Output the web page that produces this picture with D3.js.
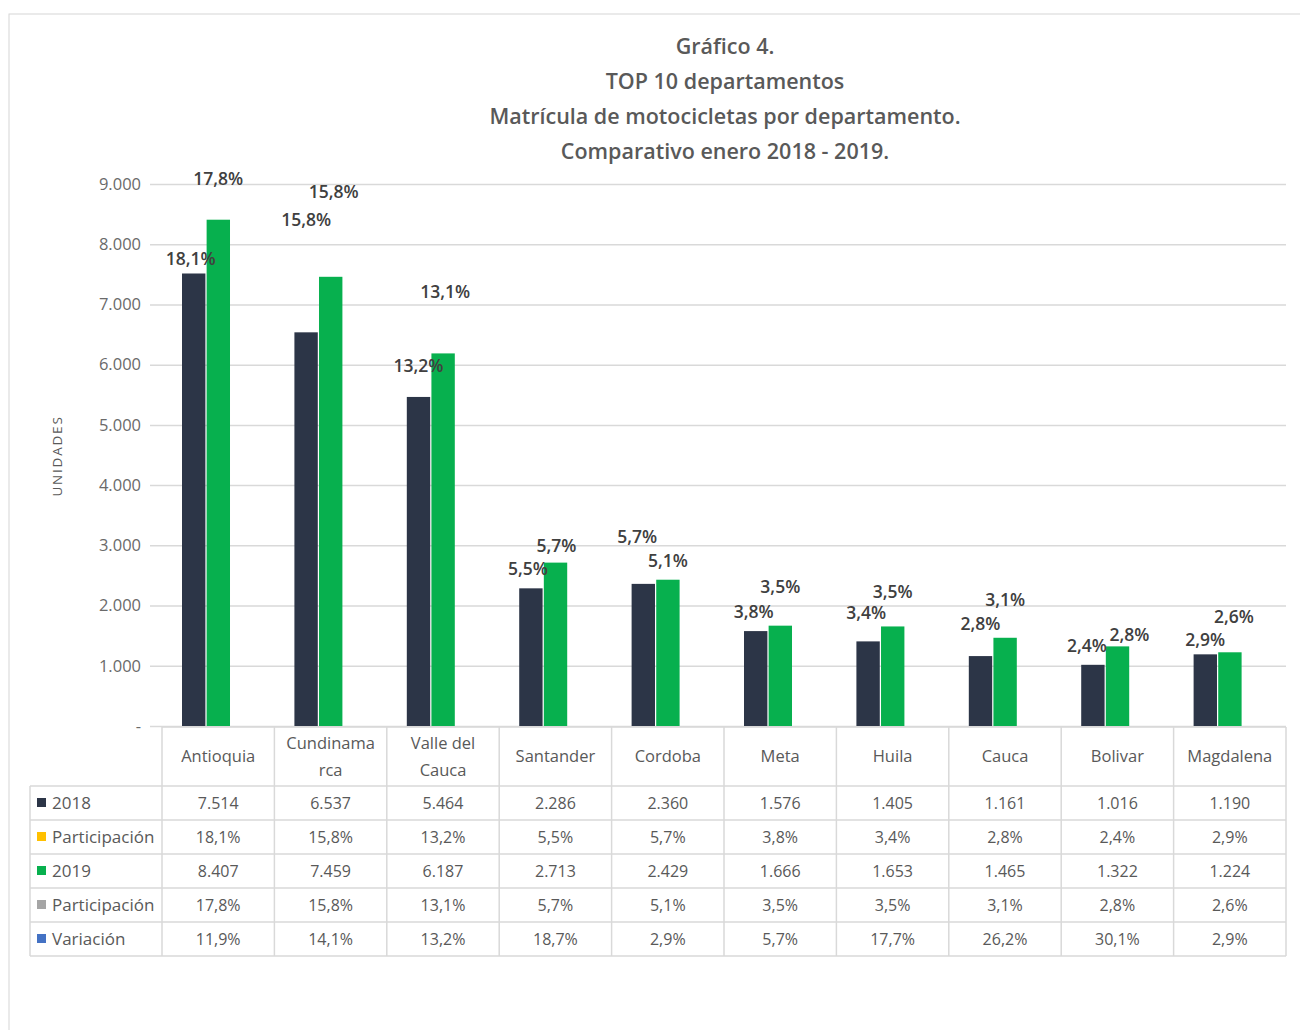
<!DOCTYPE html>
<html>
<head>
<meta charset="utf-8">
<script src="https://cdn.jsdelivr.net/npm/d3@7"></script>
<style>
  body { margin: 0; background: #fff; }
  svg { display: block; }
</style>
</head>
<body>
<div id="chart"></div>
<script>
const width = 1300;
const height = 1030;

// Data
const departamentos = ["Antioquia", "Cundinamarca", "Valle del Cauca", "Santander", "Cordoba",
  "Meta", "Huila", "Cauca", "Bolivar", "Magdalena"];
const headerLines = [["Antioquia"], ["Cundinama", "rca"], ["Valle del", "Cauca"], ["Santander"], ["Cordoba"],
  ["Meta"], ["Huila"], ["Cauca"], ["Bolivar"], ["Magdalena"]];
const v2018 = [7514, 6537, 5464, 2286, 2360, 1576, 1405, 1161, 1016, 1190];
const part2018 = [18.1, 15.8, 13.2, 5.5, 5.7, 3.8, 3.4, 2.8, 2.4, 2.9];
const v2019 = [8407, 7459, 6187, 2713, 2429, 1666, 1653, 1465, 1322, 1224];
const part2019 = [17.8, 15.8, 13.1, 5.7, 5.1, 3.5, 3.5, 3.1, 2.8, 2.6];
const variacion = [11.9, 14.1, 13.2, 18.7, 2.9, 5.7, 17.7, 26.2, 30.1, 2.9];
const yTicks = [0, 1000, 2000, 3000, 4000, 5000, 6000, 7000, 8000, 9000];
const titleLines = ["Gráfico 4.", "TOP 10 departamentos",
  "Matrícula de motocicletas por departamento.", "Comparativo enero 2018 - 2019."];

// label placement tweaks (Excel labels were moved by hand)
const nudge2018 = [[-3, 0], [0, -98], [0, -17], [-3, -5], [-6, -33], [-2, -5], [-2, -14], [0, -18], [-6, -5], [0, 0]];
const nudge2019 = [[0, -27], [3, -71], [2, -47], [1, -3], [0, -5], [0, -25], [0, -20], [0, -24], [12, 3], [4, -21]];

const colors = { y2018: "#2c3547", y2019: "#07b04e", part1: "#ffc000", part2: "#a5a5a5", vari: "#4472c4" };
const gridColor = "#d9d9d9";
const textColor = "#595959";
const font = "'Open Sans', sans-serif";

const loc = d3.formatLocale({ decimal: ",", thousands: ".", grouping: [3], currency: ["$", ""] });
const fmtInt = loc.format(",d");
const fmtPct = d => loc.format(".1f")(d) + "%";

const svg = d3.select("#chart").append("svg")
    .attr("width", width)
    .attr("height", height)
    .style("font-family", font);

svg.append("rect")
    .attr("x", 9).attr("y", 14)
    .attr("width", 1300).attr("height", 1030)
    .attr("fill", "#fff")
    .attr("stroke", "#d6d6d6");

// scales
const tableLeft = 30, plotLeft = 162, plotRight = 1286;
const x = d3.scaleBand()
    .domain(departamentos)
    .range([plotLeft, plotRight])
    .padding(0);
const xs = d3.scaleBand()
    .domain(["2018", "2019"])
    .range([x.bandwidth() * 0.178, x.bandwidth() * 0.605])
    .paddingInner(0.05);
const y = d3.scaleLinear()
    .domain([0, 9000])
    .range([726, 184]);

// title
svg.append("g")
    .attr("fill", textColor)
    .attr("text-anchor", "middle")
    .style("font-size", "21.5px")
    .style("font-weight", 600)
  .selectAll("text")
  .data(titleLines)
  .join("text")
    .attr("x", 725)
    .attr("y", (d, i) => 54 + i * 35)
    .text(d => d);

// grid + y axis
const yAxis = d3.axisLeft(y)
    .tickValues(yTicks)
    .tickSize(-(plotRight - 150))
    .tickPadding(9)
    .tickFormat(d => d === 0 ? "-" : fmtInt(d));

svg.append("g")
    .attr("transform", "translate(150,0)")
    .call(yAxis)
    .call(g => g.select(".domain").remove())
    .call(g => g.selectAll(".tick line").attr("stroke", gridColor).attr("stroke-width", 1.5))
    .call(g => g.selectAll(".tick text")
        .attr("fill", "#6a6a6a")
        .style("font-size", "16.5px")
        .style("font-family", font));

svg.append("text")
    .attr("transform", "translate(62,456) rotate(-90)")
    .attr("text-anchor", "middle")
    .attr("fill", textColor)
    .style("font-size", "13.5px")
    .style("letter-spacing", "1.8px")
    .text("UNIDADES");

// bars
const groups = svg.append("g")
  .selectAll("g")
  .data(departamentos)
  .join("g")
    .attr("transform", d => `translate(${x(d)},0)`);

groups.append("rect")
    .attr("x", xs("2018"))
    .attr("width", xs.bandwidth())
    .attr("y", (d, i) => y(v2018[i]))
    .attr("height", (d, i) => y(0) - y(v2018[i]))
    .attr("fill", colors.y2018);

groups.append("rect")
    .attr("x", xs("2019"))
    .attr("width", xs.bandwidth())
    .attr("y", (d, i) => y(v2019[i]))
    .attr("height", (d, i) => y(0) - y(v2019[i]))
    .attr("fill", colors.y2019);

// data labels (participación)
const labelStyle = sel => sel
    .attr("text-anchor", "middle")
    .attr("fill", "#404040")
    .style("font-size", "17.5px")
    .style("font-weight", 600);

groups.append("text")
    .call(labelStyle)
    .attr("x", (d, i) => xs("2018") + xs.bandwidth() / 2 + nudge2018[i][0])
    .attr("y", (d, i) => y(v2018[i]) - 8 + nudge2018[i][1])
    .text((d, i) => fmtPct(part2018[i]));

groups.append("text")
    .call(labelStyle)
    .attr("x", (d, i) => xs("2019") + xs.bandwidth() / 2 + nudge2019[i][0])
    .attr("y", (d, i) => y(v2019[i]) - 8 + nudge2019[i][1])
    .text((d, i) => fmtPct(part2019[i]));

// data table
const rows = [
  { name: "2018", color: colors.y2018, values: v2018.map(fmtInt) },
  { name: "Participación", color: colors.part1, values: part2018.map(fmtPct) },
  { name: "2019", color: colors.y2019, values: v2019.map(fmtInt) },
  { name: "Participación", color: colors.part2, values: part2019.map(fmtPct) },
  { name: "Variación", color: colors.vari, values: variacion.map(fmtPct) }
];
const headTop = 727, rowTop = 786, rowH = 34;
const tableBottom = rowTop + rows.length * rowH;

const table = svg.append("g");
const lineStyle = sel => sel.attr("stroke", gridColor).attr("stroke-width", 1.5);

table.append("line").call(lineStyle)
    .attr("x1", plotLeft).attr("x2", plotRight).attr("y1", headTop).attr("y2", headTop);
table.selectAll(".hline")
  .data(d3.range(rows.length + 1))
  .join("line").call(lineStyle)
    .attr("x1", tableLeft).attr("x2", plotRight)
    .attr("y1", i => rowTop + i * rowH).attr("y2", i => rowTop + i * rowH);
table.append("line").call(lineStyle)
    .attr("x1", tableLeft).attr("x2", tableLeft).attr("y1", rowTop).attr("y2", tableBottom);
table.selectAll(".vline")
  .data(departamentos.concat([null]))
  .join("line").call(lineStyle)
    .attr("x1", d => d ? x(d) : plotRight).attr("x2", d => d ? x(d) : plotRight)
    .attr("y1", headTop).attr("y2", tableBottom);

// header
table.selectAll(".head")
  .data(headerLines)
  .join("text")
    .attr("text-anchor", "middle")
    .attr("fill", textColor)
    .style("font-size", "16.5px")
    .attr("transform", (d, i) => `translate(${x(departamentos[i]) + x.bandwidth() / 2},${d.length > 1 ? 749 : 762})`)
  .selectAll("tspan")
  .data(d => d)
  .join("tspan")
    .attr("x", 0)
    .attr("dy", (d, i) => i === 0 ? 0 : 27)
    .text(d => d);

// row labels and values
const rowG = table.selectAll(".row")
  .data(rows)
  .join("g")
    .attr("transform", (d, i) => `translate(0,${rowTop + i * rowH + rowH / 2})`);

rowG.append("rect")
    .attr("x", 37).attr("y", -5)
    .attr("width", 9).attr("height", 9)
    .attr("fill", d => d.color);

rowG.append("text")
    .attr("x", 52).attr("y", 6)
    .attr("fill", textColor)
    .style("font-size", "17px")
    .text(d => d.name);

rowG.selectAll(".val")
  .data(d => d.values)
  .join("text")
    .attr("x", (d, i) => x(departamentos[i]) + x.bandwidth() / 2)
    .attr("y", 6)
    .attr("text-anchor", "middle")
    .attr("fill", textColor)
    .style("font-size", "16px")
    .text(d => d);
</script>
</body>
</html>
